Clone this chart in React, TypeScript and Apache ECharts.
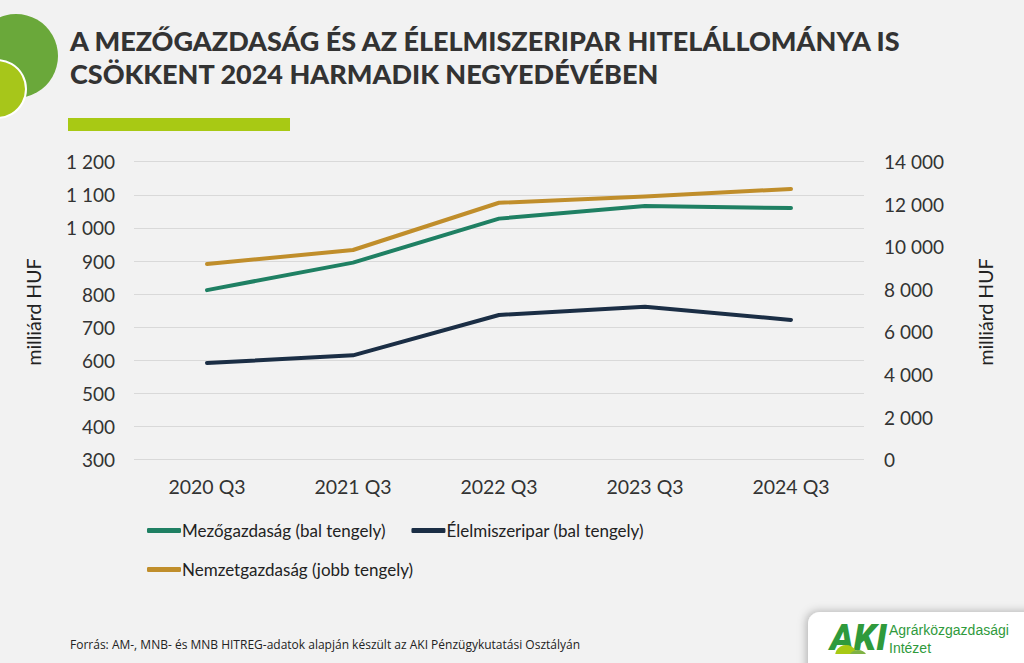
import React, { useEffect, useRef } from "react";
import * as echarts from "echarts";

const categories = ["2020 Q3", "2021 Q3", "2022 Q3", "2023 Q3", "2024 Q3"];
const mezogazdasag = [812, 895, 1028, 1066, 1060];
const elelmiszeripar = [592, 615, 737, 762, 722];
const nemzetgazdasag = [9190, 9850, 12070, 12360, 12720];
const seriesNames = [
  "Mezőgazdaság (bal tengely)",
  "Élelmiszeripar (bal tengely)",
  "Nemzetgazdaság (jobb tengely)",
];
const titleLines = [
  "A MEZŐGAZDASÁG ÉS AZ ÉLELMISZERIPAR HITELÁLLOMÁNYA IS",
  "CSÖKKENT 2024 HARMADIK NEGYEDÉVÉBEN",
];
const sourceText =
  "Forrás: AM-, MNB- és MNB HITREG-adatok alapján készült az AKI Pénzügykutatási Osztályán";
const axisName = "milliárd HUF";

const fmt = (v: number) => {
  const s = String(Math.round(v));
  return s.replace(/\B(?=(\d{3})+(?!\d))/g, " ");
};

export default function App() {
  const ref = useRef<HTMLDivElement>(null);
  useEffect(() => {
    if (!ref.current) return;
    const chart = echarts.init(ref.current, undefined, { renderer: "svg" });
    const labelFont = "Lato, 'Open Sans', sans-serif";
    const legendText = { color: "#222", fontSize: 17, padding: [0, 0, 0, -4], fontFamily: labelFont };
    chart.setOption({
      animation: false,
      backgroundColor: "#f2f2f2",
      textStyle: { fontFamily: labelFont },
      grid: { left: 134, right: 160, top: 161.7, bottom: 203.4 },
      xAxis: {
        type: "category",
        data: categories,
        boundaryGap: true,
        axisLine: { show: false },
        axisTick: { show: false },
        axisLabel: { color: "#333", fontSize: 19.5, margin: 17, fontFamily: labelFont },
      },
      yAxis: [
        {
          type: "value",
          min: 300,
          max: 1200,
          interval: 100,
          axisLine: { show: false },
          axisTick: { show: false },
          splitLine: { lineStyle: { color: "#d9d9d9", width: 1 } },
          axisLabel: { color: "#333", fontSize: 19, margin: 19, formatter: fmt, fontFamily: labelFont },
        },
        {
          type: "value",
          min: 0,
          max: 14000,
          interval: 2000,
          position: "right",
          axisLine: { show: false },
          axisTick: { show: false },
          splitLine: { show: false },
          axisLabel: { color: "#333", fontSize: 19, margin: 20, formatter: fmt, fontFamily: labelFont },
        },
      ],
      legend: [
        {
          data: [seriesNames[0], seriesNames[1]],
          left: 142,
          top: 517,
          icon: "roundRect",
          itemWidth: 34,
          itemHeight: 5,
          itemGap: 26,
          textStyle: legendText,
        },
        {
          data: [seriesNames[2]],
          left: 142,
          top: 556,
          icon: "roundRect",
          itemWidth: 34,
          itemHeight: 5,
          textStyle: legendText,
        },
      ],
      series: [
        {
          name: seriesNames[0],
          type: "line",
          data: mezogazdasag,
          yAxisIndex: 0,
          symbol: "none",
          color: "#1f8063",
          lineStyle: { width: 4, cap: "round", join: "round" },
          z: 3,
        },
        {
          name: seriesNames[1],
          type: "line",
          data: elelmiszeripar,
          yAxisIndex: 0,
          symbol: "none",
          color: "#1b2e45",
          lineStyle: { width: 4, cap: "round", join: "round" },
          z: 3,
        },
        {
          name: seriesNames[2],
          type: "line",
          data: nemzetgazdasag,
          yAxisIndex: 1,
          symbol: "none",
          color: "#c08e2b",
          lineStyle: { width: 4, cap: "round", join: "round" },
          z: 3,
        },
      ],
      graphic: [
        { type: "circle", shape: { cx: 16, cy: 56, r: 42 }, style: { fill: "#6aa83a" } },
        {
          type: "circle",
          shape: { cx: -3, cy: 89, r: 29 },
          style: { fill: "#a7c61a", stroke: "#ffffff", lineWidth: 2 },
        },
        { type: "rect", shape: { x: 68, y: 118, width: 222, height: 13 }, style: { fill: "#a8c914" } },
        {
          type: "text",
          x: 70,
          y: 27,
          style: {
            text: titleLines[0],
            fill: "#333333",
            font: "900 27px Lato, sans-serif",
          },
        },
        {
          type: "text",
          x: 70,
          y: 60,
          style: {
            text: titleLines[1],
            fill: "#333333",
            font: "900 27px Lato, sans-serif",
          },
        },
        {
          type: "text",
          x: 33,
          y: 312,
          rotation: Math.PI / 2,
          style: {
            text: axisName,
            fill: "#222",
            font: "19.5px Lato, sans-serif",
            align: "center",
            verticalAlign: "middle",
          },
        },
        {
          type: "text",
          x: 985,
          y: 312,
          rotation: Math.PI / 2,
          style: {
            text: axisName,
            fill: "#222",
            font: "19.5px Lato, sans-serif",
            align: "center",
            verticalAlign: "middle",
          },
        },
        {
          type: "text",
          x: 70,
          y: 638,
          style: {
            text: sourceText,
            fill: "#222",
            font: "12px 'Open Sans', sans-serif",
          },
        },
        {
          type: "rect",
          shape: { x: 808, y: 612, width: 230, height: 70, r: [12, 0, 0, 0] },
          style: { fill: "#ffffff", shadowBlur: 8, shadowColor: "rgba(0,0,0,0.25)", shadowOffsetX: -2, shadowOffsetY: -1 },
        },
        {
          type: "text",
          x: 830,
          y: 620,
          style: {
            text: "AKI",
            fill: "#2f9a3c",
            font: "italic 900 36px Roboto, sans-serif",
          },
        },
        {
          type: "circle",
          shape: { cx: 846, cy: 656, r: 11 },
          style: { fill: "#a8c914" },
        },
        {
          type: "circle",
          shape: { cx: 858, cy: 660, r: 10 },
          style: { fill: "#7fb244" },
        },
        {
          type: "rect",
          shape: { x: 830, y: 654, width: 40, height: 12 },
          style: { fill: "#ffffff" },
        },
        {
          type: "text",
          x: 889,
          y: 623,
          style: { text: "Agrárközgazdasági", fill: "#2f9a3c", font: "14px 'Liberation Sans', Arial, sans-serif" },
        },
        {
          type: "text",
          x: 889,
          y: 641,
          style: { text: "Intézet", fill: "#2f9a3c", font: "14px 'Liberation Sans', Arial, sans-serif" },
        },
      ],
    });
    return () => chart.dispose();
  }, []);
  return (
    <div
      ref={ref}
      style={{ position: "fixed", left: 0, top: 0, width: 1024, height: 663 }}
    />
  );
}
